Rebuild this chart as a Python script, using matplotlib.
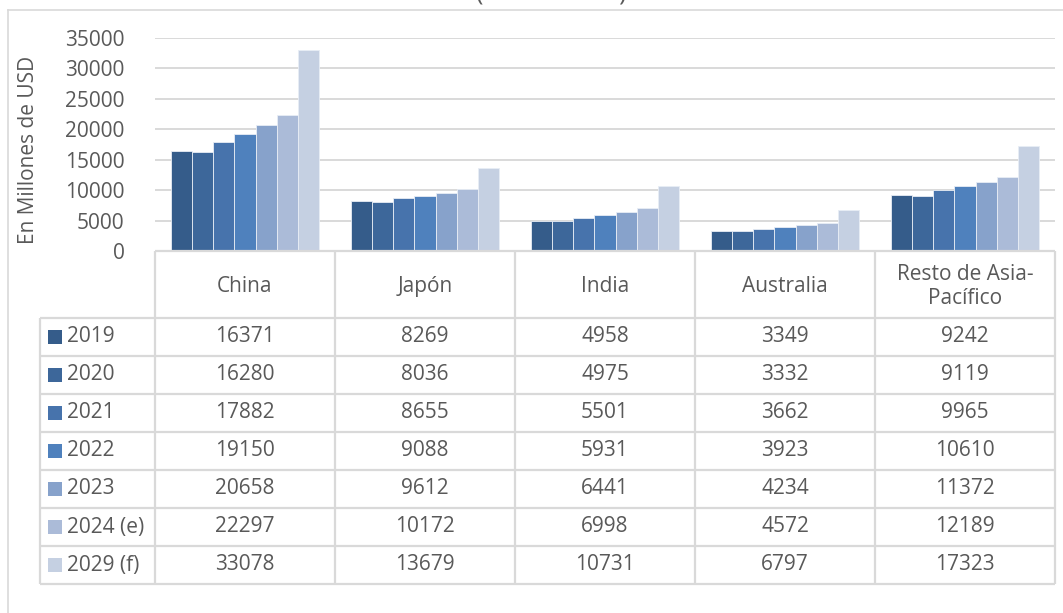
import numpy as np
import matplotlib
matplotlib.use('Agg')
import matplotlib.pyplot as plt

plt.rcParams['font.family'] = ['Open Sans', 'DejaVu Sans']

# data -------------------------------------
categories = ['China', 'Japón', 'India', 'Australia', 'Resto de Asia-\nPacífico']
series = ['2019', '2020', '2021', '2022', '2023', '2024 (e)', '2029 (f)']
values = {
    '2019':     [16371, 8269, 4958, 3349, 9242],
    '2020':     [16280, 8036, 4975, 3332, 9119],
    '2021':     [17882, 8655, 5501, 3662, 9965],
    '2022':     [19150, 9088, 5931, 3923, 10610],
    '2023':     [20658, 9612, 6441, 4234, 11372],
    '2024 (e)': [22297, 10172, 6998, 4572, 12189],
    '2029 (f)': [33078, 13679, 10731, 6797, 17323],
}
colors = ['#355C8A', '#3D679A', '#4773AC', '#4F81BD', '#87A2CB', '#ABBBD8', '#C5D0E2']
yticks = np.arange(0, 35001, 5000)

W, H = 1063, 613
txt = '#595959'
grid = '#D9D9D9'
fs = 15

fig = plt.figure(figsize=(W / 100, H / 100), dpi=100)

def px(x0, y0, x1, y1):
    # pixel box -> figure fraction [left, bottom, width, height]
    return [x0 / W, 1 - y1 / H, (x1 - x0) / W, (y1 - y0) / H]

# outer chart frame
fig.add_artist(plt.Line2D([8 / W, 8 / W], [0, 1 - 10 / H], color=grid, lw=1.2))
fig.add_artist(plt.Line2D([8 / W, 1], [1 - 10 / H, 1 - 10 / H], color=grid, lw=1.2))

# title, cut off by the top edge as in the source (only the brackets' tails show)
fig.text(551 / W, 1 + 1 / H, '(2019 - 2029)', ha='center', va='baseline',
         fontsize=18, color=txt)

# bars ---------------------------------------
ax = fig.add_axes(px(155, 38, 1055, 251))
x = np.arange(len(categories))
bw = 0.1175
for i, s in enumerate(series):
    ax.bar(x + (i - 3) * bw, values[s], width=bw, color=colors[i],
           edgecolor='#E8EDF5', linewidth=0.6, zorder=3)
ax.set_xlim(-0.5, len(categories) - 0.5)
ax.set_ylim(0, 35000)
ax.set_yticks(yticks)
ax.set_yticklabels([str(v) for v in yticks], fontsize=fs, color=txt)
ax.tick_params(axis='y', length=0, pad=22)
ax.set_xticks([])
ax.yaxis.grid(True, color=grid, lw=1.4, zorder=0)
for sp in ax.spines.values():
    sp.set_visible(False)

fig.text(29 / W, 1 - 150 / H, 'En Millones de USD', rotation=90, ha='center',
         va='center', fontsize=fs, color=txt)

# data table ---------------------------------
left = -0.5 - (155 - 40) / 180
hdr = 67 / 38
nrows = len(series)
tx = fig.add_axes(px(40, 251, 1055, 584))
tx.set_xlim(left, len(categories) - 0.5)
tx.set_ylim(nrows, -hdr)
tx.axis('off')

lk = dict(color=grid, lw=1.6, solid_capstyle='butt')
tx.plot([-0.5, len(categories) - 0.5], [-hdr, -hdr], clip_on=False, **lk)
for r in range(nrows + 1):
    tx.plot([left, len(categories) - 0.5], [r, r], clip_on=False, **lk)
tx.plot([left, left], [0, nrows], clip_on=False, **lk)
for c in range(len(categories) + 1):
    tx.plot([c - 0.5, c - 0.5], [-hdr, nrows], clip_on=False, **lk)

for c, name in enumerate(categories):
    tx.text(c, -hdr / 2 + 0.05, name, ha='center', va='center', fontsize=fs,
            color=txt, linespacing=1.15)

sq_x = left + (55 - 40) / 180
lab_x = left + (67 - 40) / 180
for r, s in enumerate(series):
    tx.scatter([sq_x], [r + 0.5], marker='s', s=100, color=colors[r],
               linewidths=0, clip_on=False)
    tx.text(lab_x, r + 0.5, s, ha='left', va='center', fontsize=fs, color=txt)
    for c, v in enumerate(values[s]):
        tx.text(c, r + 0.5, str(v), ha='center', va='center', fontsize=fs,
                color=txt)

fig.savefig('out.png', dpi=100)
